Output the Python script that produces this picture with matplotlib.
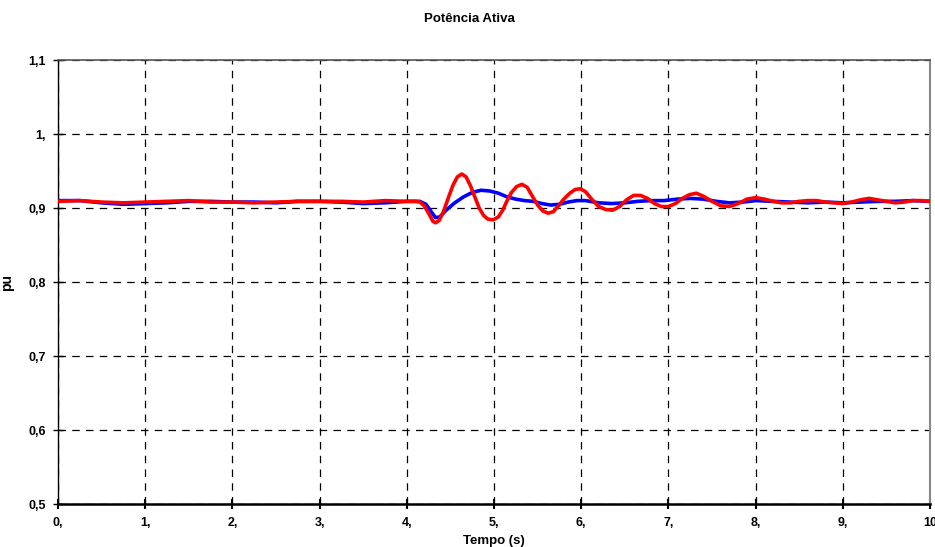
import matplotlib
matplotlib.use("Agg")
import matplotlib.pyplot as plt
from matplotlib.ticker import FixedLocator

plt.rcParams['font.family'] = ['Liberation Sans', 'DejaVu Sans']

# Active power of two cases (pu) against time (s)
t_blue = [0.0, 0.25, 0.5, 0.75, 1.0, 1.25, 1.5, 1.75, 2.0, 2.25, 2.5, 2.75,
          3.0, 3.25, 3.5, 3.75, 4.0, 4.15, 4.22, 4.28, 4.33, 4.38, 4.45, 4.55,
          4.65, 4.75, 4.85, 4.95, 5.05, 5.15, 5.25, 5.35, 5.45, 5.55, 5.65,
          5.75, 5.85, 5.95, 6.05, 6.2, 6.35, 6.5, 6.65, 6.8, 6.95, 7.1, 7.25,
          7.4, 7.55, 7.7, 7.85, 8.0, 8.2, 8.4, 8.6, 8.8, 9.0, 9.2, 9.4, 9.6,
          9.8, 10.0]
p_blue = [0.910, 0.910, 0.907, 0.905, 0.906, 0.907, 0.909, 0.909, 0.908,
          0.908, 0.907, 0.909, 0.909, 0.908, 0.906, 0.907, 0.909, 0.909,
          0.905, 0.895, 0.887, 0.888, 0.897, 0.907, 0.915, 0.921, 0.924,
          0.923, 0.920, 0.915, 0.912, 0.910, 0.909, 0.906, 0.904, 0.905,
          0.908, 0.910, 0.910, 0.907, 0.906, 0.907, 0.909, 0.910, 0.910,
          0.912, 0.913, 0.912, 0.909, 0.907, 0.908, 0.910, 0.909, 0.908,
          0.907, 0.908, 0.907, 0.908, 0.909, 0.909, 0.910, 0.909]

t_red = [0.0, 0.25, 0.5, 0.75, 1.0, 1.25, 1.5, 1.75, 2.0, 2.25, 2.5, 2.75,
         3.0, 3.25, 3.5, 3.75, 4.0, 4.1, 4.15, 4.2, 4.25, 4.3, 4.33, 4.37,
         4.42, 4.48, 4.53, 4.58, 4.63, 4.68, 4.73, 4.78, 4.83, 4.88, 4.93,
         4.99, 5.05, 5.1, 5.15, 5.2, 5.26, 5.32, 5.38, 5.44, 5.5, 5.56, 5.62,
         5.68, 5.74, 5.8, 5.87, 5.93, 5.99, 6.05, 6.12, 6.2, 6.28, 6.36, 6.44,
         6.52, 6.6, 6.68, 6.76, 6.84, 6.92, 7.0, 7.08, 7.16, 7.24, 7.32, 7.4,
         7.5, 7.6, 7.7, 7.8, 7.9, 8.0, 8.1, 8.2, 8.3, 8.4, 8.5, 8.6, 8.7, 8.8,
         8.9, 9.0, 9.1, 9.2, 9.3, 9.4, 9.5, 9.6, 9.7, 9.8, 9.9, 10.0]
p_red = [0.909, 0.910, 0.908, 0.907, 0.908, 0.909, 0.910, 0.908, 0.908,
         0.907, 0.908, 0.909, 0.909, 0.909, 0.908, 0.910, 0.909, 0.909,
         0.908, 0.903, 0.893, 0.882, 0.880, 0.883, 0.895, 0.915, 0.931,
         0.942, 0.946, 0.942, 0.930, 0.915, 0.900, 0.890, 0.885, 0.884,
         0.888, 0.897, 0.910, 0.921, 0.929, 0.932, 0.928, 0.916, 0.904,
         0.896, 0.893, 0.895, 0.903, 0.912, 0.920, 0.925, 0.926, 0.922,
         0.912, 0.902, 0.898, 0.897, 0.902, 0.911, 0.917, 0.917, 0.913,
         0.906, 0.902, 0.902, 0.906, 0.913, 0.918, 0.920, 0.916, 0.909,
         0.903, 0.902, 0.906, 0.912, 0.914, 0.912, 0.909, 0.907, 0.907,
         0.909, 0.910, 0.910, 0.908, 0.907, 0.906, 0.908, 0.911, 0.913,
         0.911, 0.909, 0.907, 0.908, 0.910, 0.910, 0.909]

x_ticks = [0, 1, 2, 3, 4, 5, 6, 7, 8, 9, 10]
x_labels = ["0,", "1,", "2,", "3,", "4,", "5,", "6,", "7,", "8,", "9,", "10"]
y_ticks = [0.5, 0.6, 0.7, 0.8, 0.9, 1.0, 1.1]
y_labels = ["0,5", "0,6", "0,7", "0,8", "0,9", "1,", "1,1"]

fig = plt.figure(figsize=(9.35, 5.47), dpi=100)
ax = fig.add_axes([0.062, 0.0786, 0.9327, 0.8117])

ax.plot(t_blue, p_blue, color="#0000ff", lw=2.6, solid_joinstyle="round", zorder=3)
ax.plot(t_red, p_red, color="#ff0000", lw=2.6, solid_joinstyle="round", zorder=4)

ax.set_xlim(0, 10)
ax.set_ylim(0.5, 1.1)
ax.xaxis.set_major_locator(FixedLocator(x_ticks))
ax.yaxis.set_major_locator(FixedLocator(y_ticks))
ax.set_xticklabels(x_labels)
ax.set_yticklabels(y_labels)

ax.grid(True, color="black", linestyle=(0, (6, 5)), linewidth=0.9, zorder=1)
ax.set_axisbelow(True)

for lab in ax.get_xticklabels() + ax.get_yticklabels():
    lab.set_fontweight("bold")
    lab.set_fontsize(9)

ax.tick_params(axis="x", direction="inout", length=7, width=1.5, pad=6)
ax.tick_params(axis="y", direction="inout", length=7, width=1.0, pad=5)

ax.spines["left"].set_color("black")
ax.spines["left"].set_linewidth(1.0)
ax.spines["bottom"].set_color("black")
ax.spines["bottom"].set_linewidth(1.8)
ax.spines["top"].set_color("#555555")
ax.spines["top"].set_linewidth(1.2)
ax.spines["right"].set_color("#888888")
ax.spines["right"].set_linewidth(1.5)

fig.text(0.5026, 0.965, "Potência Ativa", ha="center", va="center",
         fontsize=9.5, fontweight="bold")
ax.set_ylabel("pu", fontsize=10, fontweight="bold")
ax.yaxis.set_label_coords(-0.05, 0.5)
ax.set_xlabel("Tempo (s)", fontsize=9.5, fontweight="bold", labelpad=4)

fig.savefig("out.png", dpi=100)
